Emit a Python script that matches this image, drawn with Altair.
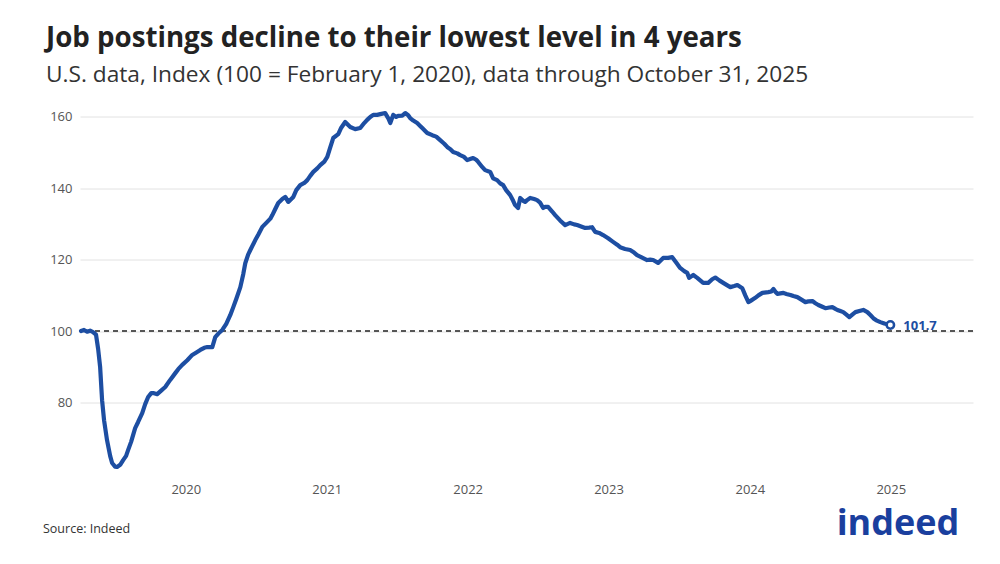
import altair as alt
import pandas as pd

# decimal-year positions and index values
years = [
    2020.092, 2020.113, 2020.135, 2020.156, 2020.177, 2020.198, 2020.213, 2020.227, 2020.241, 2020.255,
    2020.276, 2020.298, 2020.312, 2020.333, 2020.347, 2020.369, 2020.390, 2020.411, 2020.425, 2020.447,
    2020.475, 2020.496, 2020.525, 2020.546, 2020.567, 2020.589, 2020.603, 2020.631, 2020.659, 2020.688,
    2020.723, 2020.759, 2020.780, 2020.808, 2020.844, 2020.879, 2020.908, 2020.936, 2020.964, 2020.986,
    2021.021, 2021.042, 2021.064, 2021.092, 2021.120, 2021.149, 2021.170, 2021.191, 2021.220, 2021.241,
    2021.255, 2021.276, 2021.291, 2021.326, 2021.347, 2021.376, 2021.411, 2021.433, 2021.447, 2021.468,
    2021.489, 2021.518, 2021.539, 2021.560, 2021.596, 2021.617, 2021.645, 2021.674, 2021.695, 2021.716,
    2021.738, 2021.766, 2021.787, 2021.816, 2021.837, 2021.858, 2021.879, 2021.915, 2021.936, 2021.964,
    2022.000, 2022.035, 2022.071, 2022.099, 2022.120, 2022.142, 2022.163, 2022.191, 2022.213, 2022.248,
    2022.269, 2022.284, 2022.305, 2022.326, 2022.340, 2022.369, 2022.390, 2022.411, 2022.425, 2022.447,
    2022.475, 2022.496, 2022.511, 2022.546, 2022.582, 2022.610, 2022.638, 2022.667, 2022.688, 2022.709,
    2022.730, 2022.759, 2022.780, 2022.808, 2022.830, 2022.851, 2022.872, 2022.894, 2022.908, 2022.936,
    2022.957, 2022.993, 2023.014, 2023.042, 2023.064, 2023.085, 2023.106, 2023.135, 2023.156, 2023.170,
    2023.191, 2023.206, 2023.227, 2023.241, 2023.255, 2023.277, 2023.305, 2023.326, 2023.347, 2023.369,
    2023.383, 2023.404, 2023.433, 2023.454, 2023.489, 2023.525, 2023.560, 2023.589, 2023.610, 2023.638,
    2023.667, 2023.695, 2023.716, 2023.738, 2023.766, 2023.794, 2023.830, 2023.865, 2023.894, 2023.915,
    2023.950, 2023.986, 2024.014, 2024.035, 2024.071, 2024.106, 2024.128, 2024.149, 2024.184, 2024.220,
    2024.255, 2024.284, 2024.312, 2024.340, 2024.369, 2024.390, 2024.404, 2024.433, 2024.461, 2024.482,
    2024.503, 2024.539, 2024.567, 2024.589, 2024.617, 2024.645, 2024.674, 2024.695, 2024.723, 2024.745,
    2024.780, 2024.801, 2024.823, 2024.844, 2024.872, 2024.894, 2024.922, 2024.964, 2024.986, 2025.000,
    2025.014, 2025.028, 2025.071, 2025.092, 2025.121, 2025.142, 2025.170, 2025.199, 2025.227, 2025.248,
    2025.277, 2025.298, 2025.319, 2025.347, 2025.369, 2025.397, 2025.418, 2025.440, 2025.454, 2025.475,
    2025.496, 2025.518, 2025.539, 2025.560, 2025.582, 2025.610, 2025.638, 2025.667, 2025.688, 2025.709,
    2025.730, 2025.759, 2025.787, 2025.808, 2025.830,
]
values = [
    100.0, 100.3, 99.8, 100.1, 99.7, 99.0, 95.0, 90.0, 80.6, 75.0,
    69.4, 65.0, 63.0, 62.0, 61.9, 62.5, 63.8, 65.0, 66.6, 69.0,
    72.8, 74.5, 77.0, 79.5, 81.5, 82.6, 82.6, 82.3, 83.3, 84.3,
    86.3, 88.2, 89.3, 90.5, 91.8, 93.3, 94.0, 94.7, 95.3, 95.5,
    95.5, 98.3, 99.3, 100.3, 102.0, 104.5, 106.7, 109.0, 112.3, 116.0,
    119.0, 121.5, 122.7, 125.5, 127.0, 129.2, 130.6, 131.5, 132.5, 134.2,
    135.9, 137.0, 137.6, 136.2, 137.6, 139.5, 140.9, 141.5, 142.3, 143.5,
    144.6, 145.6, 146.5, 147.5, 148.8, 151.5, 154.1, 155.2, 157.0, 158.6,
    157.2, 156.6, 156.9, 158.3, 159.2, 160.0, 160.6, 160.6, 160.8, 161.1,
    159.7, 158.3, 160.6, 160.0, 160.3, 160.4, 161.1, 160.5, 159.7, 159.0,
    158.3, 157.5, 156.9, 155.5, 154.9, 154.5, 153.5, 152.5, 151.6, 151.0,
    150.2, 149.8, 149.3, 148.8, 147.9, 148.2, 148.5, 148.0, 147.4, 146.0,
    145.1, 144.6, 142.8, 142.3, 141.4, 140.9, 139.5, 138.1, 136.5, 135.3,
    134.5, 137.3, 136.5, 136.2, 136.7, 137.3, 137.0, 136.7, 136.0, 134.5,
    134.8, 134.8, 133.5, 132.5, 131.0, 129.7, 130.3, 129.9, 129.7, 129.3,
    128.9, 129.0, 129.1, 127.8, 127.5, 126.9, 126.0, 125.0, 124.2, 123.5,
    123.0, 122.7, 122.0, 121.3, 120.6, 119.9, 120.0, 119.9, 119.1, 120.5,
    120.5, 120.7, 119.2, 117.7, 116.8, 116.3, 114.9, 115.7, 114.9, 114.2,
    113.5, 113.5, 114.5, 115.0, 114.2, 113.5, 112.8, 112.3, 112.6, 112.9,
    112.0, 110.0, 108.1, 108.6, 109.3, 110.0, 110.7, 110.9, 111.1, 111.8,
    111.0, 110.4, 110.7, 110.4, 110.1, 109.8, 109.5, 108.8, 108.1, 108.3,
    108.4, 107.8, 107.3, 106.8, 106.4, 106.6, 106.7, 106.2, 105.9, 105.6,
    105.3, 104.6, 103.9, 104.6, 105.3, 105.6, 105.9, 105.3, 104.5, 103.6,
    103.0, 102.5, 102.1, 101.9, 101.7,
]
y_ticks = [80, 100, 120, 140, 160]
x_tick_years = [2020, 2021, 2022, 2023, 2024, 2025]

TITLE = "Job postings decline to their lowest level in 4 years"
SUBTITLE = "U.S. data, Index (100 = February 1, 2020), data through October 31, 2025"
SOURCE = "Source: Indeed"
BLUE = "#1d4ea2"
FONT = "Open Sans"


def to_date(y):
    base = pd.Timestamp(int(y), 1, 1)
    days = 366 if int(y) % 4 == 0 else 365
    return (base + pd.to_timedelta((y - int(y)) * days, unit="D")).strftime("%Y-%m-%dT%H:%M:%SZ")


df = pd.DataFrame({"date": [to_date(y) for y in years], "value": values})
last = df.tail(1).copy()
last["label"] = [f"{v:.1f}" for v in last["value"]]

x_scale = alt.Scale(
    type="utc",
    domain=[alt.DateTime(year=2020, month=2, date=1, utc=True),
            alt.DateTime(year=2026, month=6, date=2, utc=True)],
)
x_axis = alt.Axis(
    values=[alt.DateTime(year=y, month=11, date=1, utc=True) for y in x_tick_years],
    labelExpr="utcFormat(datum.value, '%Y')", title=None, grid=False, domain=False, ticks=False,
    labelFont=FONT, labelFontSize=13, labelColor="#555555", labelPadding=8,
)
y_scale = alt.Scale(domain=[59.5, 163.5], nice=False, zero=False)
y_axis = alt.Axis(
    values=y_ticks, title=None, domain=False, ticks=False, grid=True,
    gridColor="#e2e2e2", gridWidth=1, labelFont=FONT, labelFontSize=13,
    labelColor="#555555", labelPadding=8,
)

base = alt.Chart(df)

line = base.mark_line(color=BLUE, strokeWidth=4.2, strokeJoin="round", strokeCap="round").encode(
    x=alt.X("date:T", scale=x_scale, axis=x_axis),
    y=alt.Y("value:Q", scale=y_scale, axis=y_axis),
)

ref = alt.Chart(pd.DataFrame({"ref": [100]})).mark_rule(
    color="#222222", strokeDash=[5, 4], strokeWidth=1.3
).encode(y=alt.Y("ref:Q", scale=y_scale))

end_pt = alt.Chart(last).mark_point(
    shape="circle", filled=True, fill="white", stroke=BLUE, strokeWidth=2.5, size=55, opacity=1
).encode(x=alt.X("date:T", scale=x_scale), y=alt.Y("value:Q", scale=y_scale))

end_lbl = alt.Chart(last).mark_text(
    align="left", baseline="middle", dx=13, dy=1, font=FONT, fontSize=13, fontWeight="bold", color=BLUE
).encode(x=alt.X("date:T", scale=x_scale), y=alt.Y("value:Q", scale=y_scale), text="label:N")

source = alt.Chart(pd.DataFrame({"t": [SOURCE]})).mark_text(
    align="left", baseline="middle", font=FONT, fontSize=12.5, color="#333333"
).encode(x=alt.value(-37), y=alt.value(424.5), text="t:N")

logo = alt.Chart(pd.DataFrame({"t": ["indeed"]})).mark_text(
    align="center", baseline="alphabetic", font=FONT, fontSize=36, fontWeight="bold",
    color="#1a3f9e"
).encode(x=alt.value(818), y=alt.value(430), text="t:N")

chart = alt.layer(ref, line, end_pt, end_lbl, source, logo).properties(
    width=893,
    height=371,
    autosize=alt.AutoSizeParams(type="none"),
    padding={"left": 72, "top": 96.5, "right": 19, "bottom": 70},
    background="white",
    title=alt.TitleParams(
        text=TITLE, subtitle=SUBTITLE, anchor="start", dx=3, offset=18,
        font=FONT, fontSize=27.7, fontWeight="bold", color="#222222",
        subtitleFont=FONT, subtitleFontSize=22.7, subtitleColor="#333333", subtitlePadding=11,
    ),
).configure_view(stroke=None)

chart.save("out.html", embed_options={"renderer": "svg", "actions": False})
